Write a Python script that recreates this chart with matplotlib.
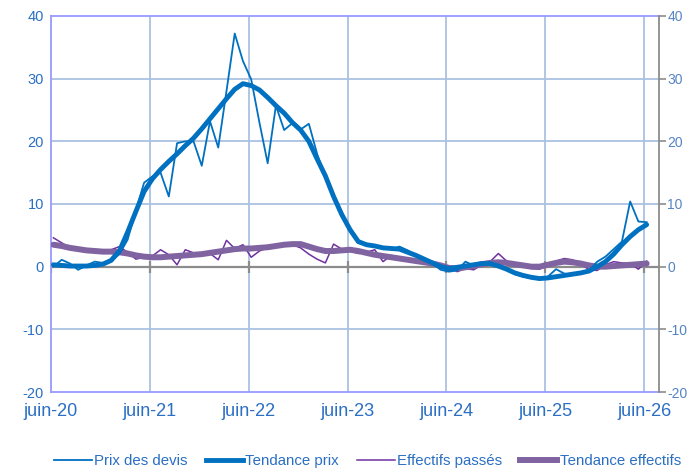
import matplotlib
matplotlib.use("Agg")
import matplotlib.pyplot as plt
from matplotlib.lines import Line2D
from matplotlib import font_manager
import numpy as np

# ---- data (monthly, juin-20 .. juin-26) ----
tick_labels = ["juin-20", "juin-21", "juin-22", "juin-23", "juin-24", "juin-25", "juin-26"]

prix_devis = [0.0, 1.1, 0.5, -0.5, 0.2, 0.8, 0.6, 0.9, 2.0, 4.3,
              9.0, 13.4, 14.4, 15.0, 11.2, 19.7, 20.0, 20.0, 16.1, 23.2,
              19.0, 28.0, 37.2, 32.8, 29.9, 23.0, 16.5, 25.7, 21.8, 22.9,
              21.9, 22.8, 18.0, 14.3, 11.0, 8.2, 5.8, 3.8, 3.5, 3.2,
              3.0, 2.8, 3.2, 2.6, 1.8, 1.0, 0.5, -0.5, -0.8, -0.6,
              0.8, 0.2, 0.5, 0.4, 0.0, -0.5, -1.2, -1.6, -1.8, -2.0,
              -1.6, -0.4, -1.1, -1.3, -1.0, -0.6, 0.8, 1.6, 2.8, 4.0,
              10.4, 7.2, 7.1]

tendance_prix = [0.3, 0.2, 0.1, 0.1, 0.1, 0.2, 0.4, 1.0, 2.5, 5.5,
                 8.8, 12.0, 14.0, 15.5, 16.8, 18.0, 19.3, 20.5, 22.0, 23.6,
                 25.2, 26.8, 28.3, 29.2, 28.9, 28.2, 27.0, 25.7, 24.5, 23.0,
                 21.8, 20.0, 17.2, 14.5, 11.2, 8.3, 5.9, 4.0, 3.5, 3.3,
                 3.0, 2.9, 2.8, 2.3, 1.8, 1.2, 0.6, 0.0, -0.3, -0.1,
                 0.1, 0.3, 0.5, 0.5, 0.1, -0.4, -1.0, -1.4, -1.7, -1.9,
                 -1.8, -1.6, -1.4, -1.2, -1.0, -0.7, 0.0, 0.8, 2.0, 3.5,
                 4.8, 5.9, 6.7]

effectifs = [4.6, 3.8, 3.0, 2.8, 2.6, 2.4, 2.5, 2.7, 3.2, 2.3,
             1.2, 1.5, 1.7, 2.7, 1.9, 0.3, 2.7, 2.2, 2.0, 2.1,
             1.1, 4.2, 2.9, 3.5, 1.5, 2.5, 3.0, 3.3, 3.5, 3.5,
             3.0, 2.0, 1.2, 0.6, 3.6, 2.8, 2.5, 2.1, 2.3, 2.7,
             0.8, 1.8, 1.4, 1.3, 1.1, 0.9, 0.6, 0.4, 0.0, -0.8,
             -0.3, -0.5, 0.3, 0.8, 2.1, 0.9, 0.3, 0.0, -0.3, -0.4,
             0.3, 0.9, 1.3, 1.1, 0.5, -0.5, -0.6, 0.3, 0.8, 0.6,
             0.5, -0.4, 0.9]

tendance_eff = [3.5, 3.3, 3.0, 2.8, 2.6, 2.5, 2.4, 2.4, 2.3, 2.1,
                1.8, 1.6, 1.5, 1.5, 1.6, 1.7, 1.8, 1.9, 2.0, 2.2,
                2.4, 2.6, 2.8, 2.9, 2.9, 3.0, 3.1, 3.3, 3.5, 3.6,
                3.6, 3.2, 2.8, 2.5, 2.5, 2.6, 2.7, 2.5, 2.2, 1.9,
                1.7, 1.5, 1.3, 1.1, 0.9, 0.7, 0.5, 0.2, -0.2, -0.3,
                -0.1, 0.1, 0.4, 0.6, 0.7, 0.6, 0.4, 0.2, 0.0, 0.0,
                0.3, 0.6, 0.8, 0.7, 0.5, 0.2, 0.0, 0.0, 0.1, 0.2,
                0.3, 0.4, 0.5]

series_names = ["Prix des devis", "Tendance prix", "Effectifs passés", "Tendance effectifs"]

# ---- style ----
FONT = ["Liberation Sans", "DejaVu Sans"]
BLUE = "#0070c0"
PURPLE_THIN = "#7030a0"
PURPLE_THICK = "#8064a2"
LABEL_BLUE = "#2a6fc4"
RIGHT_BLUE = "#5584c4"
GRID = "#a9c1e0"
BORDER = "#9999ff"
GRAY = "#8c8c8c"

plt.rcParams["font.family"] = FONT

fig = plt.figure(figsize=(6.99, 4.70), dpi=100)
ax = fig.add_axes([51/699, 1-392/470, (659-51)/699, (392-16)/470])

x = np.arange(len(prix_devis)) + 0.3
xt = np.arange(0, 73, 12)

ax.set_xlim(0, 73.8)
ax.set_ylim(-20, 40)

# grid
for v in xt[1:]:
    ax.axvline(v, color=GRID, lw=1.3, zorder=1)
for v in range(-10, 40, 10):
    if v != 0:
        ax.axhline(v, color=GRID, lw=1.3, zorder=1)
# zero axis with crossing tick marks
ax.axhline(0, color=GRAY, lw=1.6, zorder=2)
ax.vlines(xt, -0.95, 0.95, color=GRAY, lw=1.6, zorder=2)

ax.plot(x, effectifs, color=PURPLE_THIN, lw=1.1, zorder=3)
ax.plot(x, tendance_eff, color=PURPLE_THICK, lw=4.3, zorder=4, solid_capstyle="round")
ax.plot(x, prix_devis, color=BLUE, lw=1.3, zorder=5)
ax.plot(x, tendance_prix, color=BLUE, lw=3.5, zorder=6, solid_capstyle="round")

for s in ["top", "left", "bottom"]:
    ax.spines[s].set_color(BORDER)
    ax.spines[s].set_linewidth(1.3)
ax.spines["right"].set_visible(False)

ax.set_xticks(xt)
ax.set_xticklabels(tick_labels, fontsize=13, color=LABEL_BLUE)
ax.tick_params(axis="x", length=0, pad=8)
ax.set_yticks(range(-20, 41, 10))
ax.set_yticklabels([str(v) for v in range(-20, 41, 10)], fontsize=10.5, color=LABEL_BLUE)
ax.tick_params(axis="y", length=0, pad=5)

ax2 = ax.twinx()
ax2.set_ylim(-20, 40)
ax2.set_yticks(range(-20, 41, 10))
ax2.set_yticklabels([str(v) for v in range(-20, 41, 10)], fontsize=10, color=RIGHT_BLUE)
ax2.tick_params(axis="y", length=5, width=1.2, color=GRAY, pad=1)
for s in ["top", "left", "bottom"]:
    ax2.spines[s].set_visible(False)
ax2.spines["right"].set_color(GRAY)
ax2.spines["right"].set_linewidth(1.3)

handles = [Line2D([], [], color=BLUE, lw=1.3),
           Line2D([], [], color=BLUE, lw=3.5),
           Line2D([], [], color=PURPLE_THIN, lw=1.1),
           Line2D([], [], color=PURPLE_THICK, lw=4.3)]
leg = fig.legend(handles, series_names, loc="center", bbox_to_anchor=(0.526, 0.019),
                 ncol=4, frameon=False, handlelength=2.5, handletextpad=0.15,
                 columnspacing=1.2, prop={"size": 10.8})
for t in leg.get_texts():
    t.set_color(LABEL_BLUE)

fig.savefig("out.png", dpi=100)
